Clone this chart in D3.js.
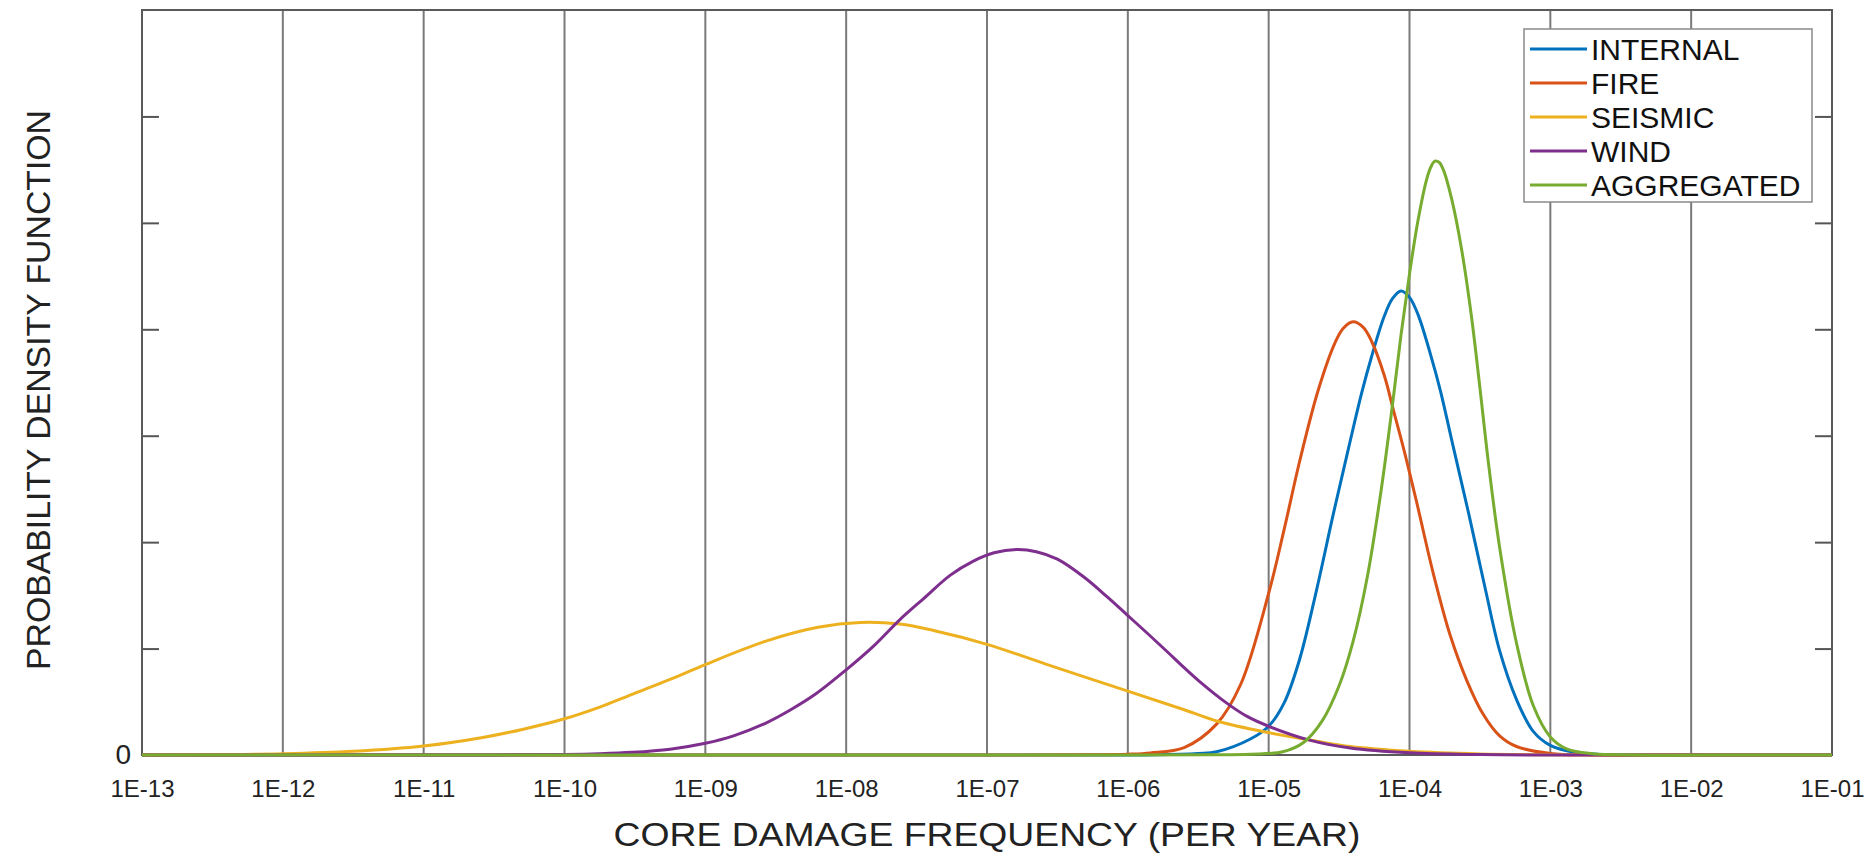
<!DOCTYPE html>
<html>
<head>
<meta charset="utf-8">
<script src="https://cdn.jsdelivr.net/npm/d3@7"></script>
<style>
  body { margin: 0; background: #fff; }
  text { font-family: Arial, "Liberation Sans", sans-serif; }
</style>
</head>
<body>
<div id="chart"></div>
<script>
// x positions are log10 of the frequency, y is the (unitless) pdf height
var tickLabels = ["1E-13", "1E-12", "1E-11", "1E-10", "1E-09", "1E-08", "1E-07",
                  "1E-06", "1E-05", "1E-04", "1E-03", "1E-02", "1E-01"];
var seriesNames = ["INTERNAL", "FIRE", "SEISMIC", "WIND", "AGGREGATED"];
var seriesColors = ["#0072BD", "#D95319", "#EDB120", "#7E2F8E", "#77AC30"];

var internal = [[-13, 0], [-8, 0], [-6.5, 0], [-5.8, 0.003], [-5.5, 0.015], [-5.37, 0.03],
  [-5.13, 0.15], [-5.0, 0.27], [-4.89, 0.49], [-4.78, 0.90], [-4.66, 1.55], [-4.54, 2.27],
  [-4.43, 2.90], [-4.34, 3.40], [-4.27, 3.74], [-4.18, 4.12], [-4.12, 4.29], [-4.06, 4.36],
  [-4.0, 4.30], [-3.94, 4.14], [-3.85, 3.76], [-3.78, 3.42], [-3.69, 2.90], [-3.58, 2.27],
  [-3.46, 1.55], [-3.36, 0.98], [-3.24, 0.52], [-3.12, 0.22], [-3.0, 0.09], [-2.85, 0.03],
  [-2.65, 0.005], [-2.4, 0], [-1.5, 0], [-1, 0]];

var fire = [[-13, 0], [-9, 0], [-7, 0], [-6.3, 0.002], [-6.0, 0.008], [-5.84, 0.02],
  [-5.60, 0.07], [-5.37, 0.29], [-5.20, 0.66], [-5.0, 1.52], [-4.89, 2.12], [-4.78, 2.76],
  [-4.65, 3.42], [-4.53, 3.87], [-4.47, 4.01], [-4.40, 4.07], [-4.33, 4.02], [-4.27, 3.89],
  [-4.18, 3.57], [-4.11, 3.22], [-4.04, 2.87], [-3.95, 2.38], [-3.83, 1.70], [-3.71, 1.12],
  [-3.59, 0.69], [-3.48, 0.39], [-3.36, 0.18], [-3.24, 0.08], [-3.0, 0.015], [-2.7, 0],
  [-2, 0], [-1, 0]];

var seismic = [[-13, 0], [-12.5, 0.004], [-12, 0.012], [-11.5, 0.035], [-11, 0.085],
  [-10.58, 0.165], [-10.3, 0.24], [-10, 0.34], [-9.75, 0.45], [-9.52, 0.57], [-9.25, 0.71],
  [-9, 0.85], [-8.57, 1.07], [-8.2, 1.20], [-7.9, 1.245], [-7.62, 1.23], [-7.38, 1.17],
  [-7, 1.04], [-6.55, 0.84], [-6, 0.60], [-5.61, 0.43], [-5.37, 0.32], [-5, 0.21],
  [-4.66, 0.13], [-4.42, 0.08], [-4, 0.035], [-3.5, 0.01], [-3, 0.002], [-2.5, 0], [-1, 0]];

var wind = [[-13, 0], [-11.5, 0], [-10.5, 0.001], [-10, 0.005], [-9.75, 0.012], [-9.52, 0.025],
  [-9.25, 0.055], [-9, 0.11], [-8.8, 0.18], [-8.57, 0.30], [-8.4, 0.42], [-8.22, 0.57],
  [-8, 0.80], [-7.8, 1.03], [-7.62, 1.27], [-7.45, 1.47], [-7.26, 1.69], [-7.1, 1.82],
  [-6.95, 1.90], [-6.79, 1.93], [-6.65, 1.91], [-6.50, 1.84], [-6.31, 1.67], [-6.15, 1.49],
  [-6.0, 1.31], [-5.85, 1.13], [-5.72, 0.97], [-5.6, 0.82], [-5.49, 0.69], [-5.30, 0.49],
  [-5.15, 0.36], [-5.0, 0.27], [-4.71, 0.14], [-4.42, 0.065], [-4.0, 0.02], [-3.5, 0.004],
  [-3, 0], [-1, 0]];

var aggregated = [[-13, 0], [-8, 0], [-6, 0], [-5.4, 0.002], [-5.13, 0.008], [-4.9, 0.03],
  [-4.75, 0.12], [-4.62, 0.32], [-4.50, 0.65], [-4.40, 1.07], [-4.30, 1.67], [-4.20, 2.50],
  [-4.12, 3.30], [-4.06, 3.95], [-4.0, 4.52], [-3.94, 5.02], [-3.88, 5.40], [-3.85, 5.52],
  [-3.82, 5.58], [-3.79, 5.57], [-3.76, 5.50], [-3.70, 5.22], [-3.63, 4.75], [-3.56, 4.12],
  [-3.50, 3.45], [-3.44, 2.75], [-3.36, 1.95], [-3.24, 1.05], [-3.12, 0.46], [-3.0, 0.17],
  [-2.88, 0.055], [-2.7, 0.012], [-2.4, 0], [-1.5, 0], [-1, 0]];

var allSeries = [internal, fire, seismic, wind, aggregated];
var yTicks = [0, 1, 2, 3, 4, 5, 6, 7];

var W = 1874, H = 854;
var margin = {top: 10, right: 42, bottom: 99, left: 142};
var width = W - margin.left - margin.right,
    height = H - margin.top - margin.bottom;

var svg = d3.select("#chart").append("svg")
    .attr("width", W)
    .attr("height", H)
    .style("background", "#fff");

var g = svg.append("g")
    .attr("transform", "translate(" + margin.left + "," + margin.top + ")");

var x = d3.scaleLog().domain([1e-13, 1e-1]).range([0, width]);
var y = d3.scaleLinear().domain([0, 7]).range([height, 0]);

var decadeVals = tickLabels.map(function(d, i) { return Math.pow(10, -13 + i); });

// vertical grid at each decade
g.selectAll(".grid")
    .data(decadeVals.slice(1, -1))
  .enter().append("line")
    .attr("class", "grid")
    .attr("x1", function(d) { return x(d); })
    .attr("x2", function(d) { return x(d); })
    .attr("y1", 0)
    .attr("y2", height)
    .attr("stroke", "#7a7a7a")
    .attr("stroke-width", 2);

// x axis labels
var xAxis = g.append("g")
    .attr("transform", "translate(0," + height + ")")
    .call(d3.axisBottom(x)
      .tickValues(decadeVals)
      .tickSize(0)
      .tickPadding(25)
      .tickFormat(function(d, i) { return tickLabels[i]; }));
xAxis.select(".domain").remove();
xAxis.selectAll("text")
    .attr("font-size", 24)
    .attr("fill", "#222")
    .attr("font-family", "Arial, 'Liberation Sans', sans-serif");

// left axis ticks pointing in, only "0" labelled
var yAxisL = g.append("g")
    .call(d3.axisLeft(y)
      .tickValues(yTicks.slice(0, -1))
      .tickSize(-17)
      .tickPadding(11)
      .tickFormat(function(d) { return d === 0 ? "0" : ""; }));
yAxisL.select(".domain").remove();
yAxisL.selectAll("line").attr("stroke", "#555").attr("stroke-width", 2);
yAxisL.selectAll("text")
    .attr("font-size", 28)
    .attr("fill", "#222")
    .attr("font-family", "Arial, 'Liberation Sans', sans-serif");

var yAxisR = g.append("g")
    .attr("transform", "translate(" + width + ",0)")
    .call(d3.axisRight(y)
      .tickValues(yTicks.slice(1, -1))
      .tickSize(-17)
      .tickFormat(""));
yAxisR.select(".domain").remove();
yAxisR.selectAll("line").attr("stroke", "#555").attr("stroke-width", 2);

// box
g.append("rect")
    .attr("x", 0).attr("y", 0)
    .attr("width", width).attr("height", height)
    .attr("fill", "none")
    .attr("stroke", "#5a5a5a")
    .attr("stroke-width", 2);

// curves
var line = d3.line()
    .x(function(d) { return x(Math.pow(10, d[0])); })
    .y(function(d) { return Math.min(y(d[1]), height); })
    .curve(d3.curveCatmullRom.alpha(0.5));

allSeries.forEach(function(s, i) {
  g.append("path")
      .datum(s)
      .attr("fill", "none")
      .attr("stroke", seriesColors[i])
      .attr("stroke-width", 3)
      .attr("stroke-linejoin", "round")
      .attr("d", line);
});

// axis titles
svg.append("text")
    .attr("x", margin.left + width / 2)
    .attr("y", 846)
    .attr("text-anchor", "middle")
    .attr("font-size", 33)
    .attr("fill", "#222")
    .attr("textLength", 747)
    .attr("lengthAdjust", "spacingAndGlyphs")
    .text("CORE DAMAGE FREQUENCY (PER YEAR)");

svg.append("text")
    .attr("transform", "translate(50," + 390 + ") rotate(-90)")
    .attr("text-anchor", "middle")
    .attr("font-size", 33)
    .attr("fill", "#222")
    .attr("textLength", 560)
    .attr("lengthAdjust", "spacingAndGlyphs")
    .text("PROBABILITY DENSITY FUNCTION");

// legend
var legend = svg.append("g").attr("transform", "translate(1524,29)");
legend.append("rect")
    .attr("width", 288).attr("height", 173)
    .attr("fill", "#fff")
    .attr("stroke", "#8a8a8a")
    .attr("stroke-width", 1.5);

seriesNames.forEach(function(name, i) {
  var row = legend.append("g").attr("transform", "translate(0," + (20 + i * 34) + ")");
  row.append("line")
      .attr("x1", 6).attr("x2", 63)
      .attr("stroke", seriesColors[i])
      .attr("stroke-width", 3);
  row.append("text")
      .attr("x", 67)
      .attr("dy", "0.36em")
      .attr("font-size", 30)
      .attr("fill", "#111")
      .text(name);
});
</script>
</body>
</html>
